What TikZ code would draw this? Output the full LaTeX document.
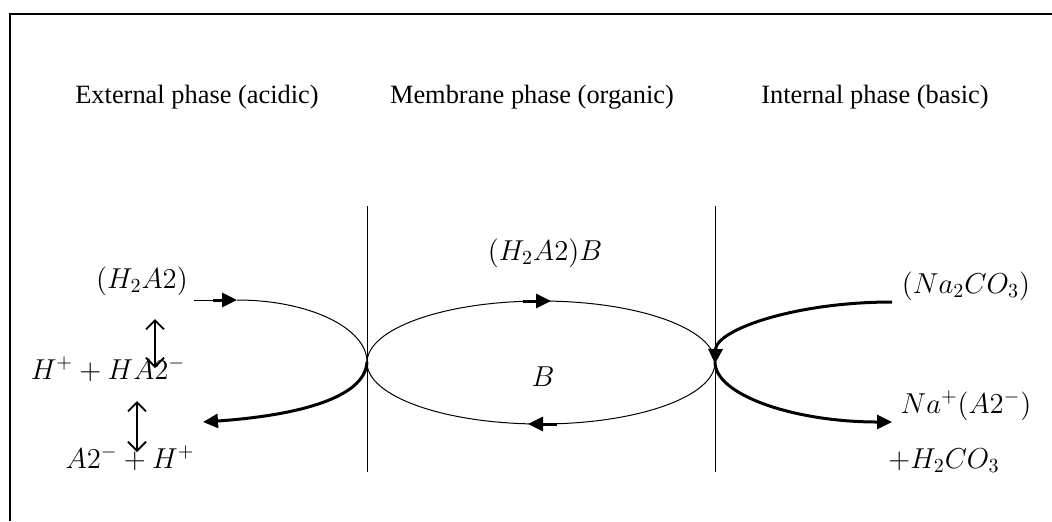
\documentclass[tikz,border=0pt]{standalone}
\usepackage{fontspec}
\setmainfont{Liberation Serif}
\usetikzlibrary{arrows.meta}
\begin{document}
\begin{tikzpicture}[x=0.5pt,y=-0.5pt,
  lbl/.style={font=\fontsize{13.2}{16}\selectfont, inner sep=0pt, anchor=base},
  mlbl/.style={font=\fontsize{13.6}{16.5}\selectfont, inner sep=0pt, anchor=base},
  thinln/.style={line width=0.5pt},
  thickln/.style={line width=1.5pt},
  head/.style={-{Triangle[length=7.5pt,width=7pt]}},
  eqarrow/.style={line width=0.9pt, {Straight Barb[length=4.5pt,width=9pt]}-{Straight Barb[length=4.5pt,width=9pt]}}
]
\useasboundingbox (0,0) rectangle (1052,521);
% frame
\draw[line width=1pt] (10,521) -- (10,14) -- (1052,14);
% titles
\node[lbl] (ext) at (197,103) {External phase (acidic)};
\node[lbl] (mem) at (532,103) {Membrane phase (organic)};
\node[lbl] (int) at (875,103) {Internal phase (basic)};
% membrane boundaries
\coordinate (m1t) at (367,206); \coordinate (m1b) at (367,472);
\coordinate (m2t) at (715,206); \coordinate (m2b) at (715,472);
\draw[thinln] (m1t) -- (m1b);
\draw[thinln] (m2t) -- (m2b);
% labels
\node[mlbl] (h2a2) at (142,288) {$(H_2A2)$};
\node[mlbl] (hha) at (108,379) {$H^+ + HA2^-$};
\node[mlbl] (aH) at (130,468) {$A2^- + H^+$};
\node[mlbl] (h2a2b) at (545,260) {$(H_2A2)B$};
\node[mlbl] (B) at (543,386) {$B$};
\node[mlbl] (na2co3) at (966,293) {$(Na_2CO_3)$};
\node[mlbl] (naA) at (966,413) {$Na^+(A2^-)$};
\node[mlbl] (h2co3) at (944,468) {$+H_2CO_3$};
% key points
\coordinate (Lstart) at (194,300);
\coordinate (Lhead) at (213,300);
\coordinate (Ltop) at (237,300);
\coordinate (Lmid) at (367,362);
\coordinate (Lend) at (203,422);
\coordinate (Rtop) at (892,302);
\coordinate (Rmid) at (715,364);
\coordinate (Rend) at (892,422);
% left cycle
\draw[thinln] (Lstart) -- (Lhead);
\draw[thickln,head] (Lhead) -- (Ltop);
\draw[thinln] (Ltop) .. controls (309,300) and (367,328) .. (Lmid);
\draw[thickln,head] (Lmid) .. controls (365,400) and (290,416) .. (Lend);
% equilibria
\coordinate (e1a) at (155,319); \coordinate (e1b) at (155,368);
\coordinate (e2a) at (137,401); \coordinate (e2b) at (137,452);
\draw[eqarrow] (e1a) -- (e1b);
\draw[eqarrow] (e2a) -- (e2b);
% membrane ellipse
\draw[thinln] (541,362.5) ellipse [x radius=174, y radius=61.5];
\coordinate (ta) at (523,301); \coordinate (tb) at (551,301);
\coordinate (ba) at (557,424); \coordinate (bb) at (528,424);
\draw[thickln,head] (ta) -- (tb);
\draw[thickln,head] (ba) -- (bb);
% right cycle
\draw[thickln,head] (Rtop) .. controls (794,302) and (716,330) .. (Rmid);
\draw[thickln,head] (715,362) .. controls (715,395) and (794,422) .. (Rend);
\end{tikzpicture}
\end{document}
